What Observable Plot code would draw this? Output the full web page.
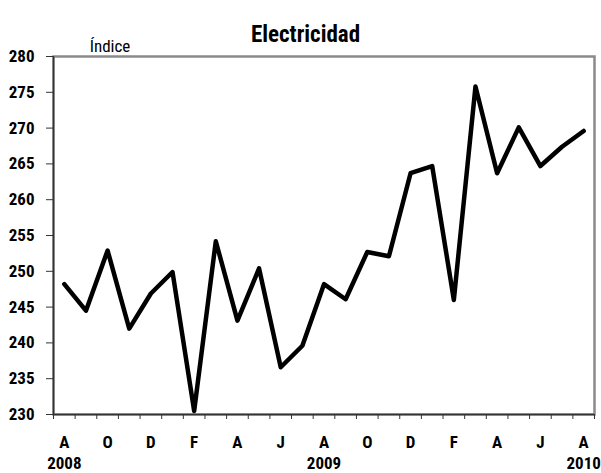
<!DOCTYPE html>
<html>
<head>
<meta charset="utf-8">
<script src="https://cdn.jsdelivr.net/npm/d3@7"></script>
<script src="https://cdn.jsdelivr.net/npm/@observablehq/plot@0.6"></script>
<style>
  html, body { margin: 0; padding: 0; background: #fff; }
  svg text { font-stretch: condensed; }
</style>
</head>
<body>
<div id="chart"></div>
<script>
// Monthly index, Aug 2008 – Aug 2010
const monthInitials = ["A","S","O","N","D","E","F","M","A","M","J","J","A","S","O","N","D","E","F","M","A","M","J","J","A"];
const values = [248.2,244.5,252.9,242.0,246.9,249.9,230.5,254.2,243.1,250.4,236.6,239.6,248.2,246.1,252.7,252.1,263.7,264.7,246.0,275.8,263.7,270.1,264.7,267.4,269.6];
const yearLabels = ["2008","2009","2010"];
const yearIndex = [0, 12, 24];
const yTicks = [230,235,240,245,250,255,260,265,270,275,280];
const titleText = "Electricidad";
const unitText = "Índice";

const data = values.map((v, i) => ({i, v}));
const labelIdx = monthInitials.map((_, i) => i).filter(i => i % 2 === 0);
const boundaries = d3.range(-0.5, monthInitials.length, 1);

const font = "'Roboto Condensed', Roboto, 'Liberation Sans', sans-serif";

const chart = Plot.plot({
  width: 601,
  height: 473,
  marginLeft: 53,
  marginRight: 7,
  marginTop: 56,
  marginBottom: 59,
  style: {fontFamily: font, fontSize: "17px", fontWeight: "bold", color: "#000", background: "#fff", overflow: "visible"},
  x: {domain: [-0.5, monthInitials.length - 0.5], axis: null},
  y: {domain: [230, 280], axis: null},
  marks: [
    Plot.frame({stroke: "#8a8a8a", strokeWidth: 2.5}),
    Plot.ruleX([-0.5], {stroke: "#333", strokeWidth: 1.5}),
    Plot.ruleY([230], {stroke: "#333", strokeWidth: 1.5}),
    Plot.axisY(yTicks, {label: null, tickSize: 7, tickPadding: 12, stroke: "#333", fill: "#000"}),
    Plot.axisX(boundaries, {label: null, tickSize: 5, tickFormat: () => "", stroke: "#333"}),
    Plot.axisX(labelIdx, {label: null, tickSize: 0, tickPadding: 21, tickFormat: i => monthInitials[i], fill: "#000"}),
    Plot.axisX(yearIndex, {label: null, tickSize: 0, tickPadding: 42, tickFormat: i => yearLabels[yearIndex.indexOf(i)], fill: "#000"}),
    Plot.line(data, {x: "i", y: "v", stroke: "#000", strokeWidth: 4.5, strokeLinejoin: "round"}),
    Plot.text([titleText], {frameAnchor: "top-left", dx: 252, dy: -31, fontSize: 23, fontWeight: "bold", textAnchor: "middle", fill: "#000"}),
    Plot.text([unitText], {frameAnchor: "top-left", dx: 56.5, dy: -16.5, fontSize: 17, fontWeight: "normal", textAnchor: "middle", fill: "#000"})
  ]
});
document.getElementById("chart").appendChild(chart);
</script>
</body>
</html>
